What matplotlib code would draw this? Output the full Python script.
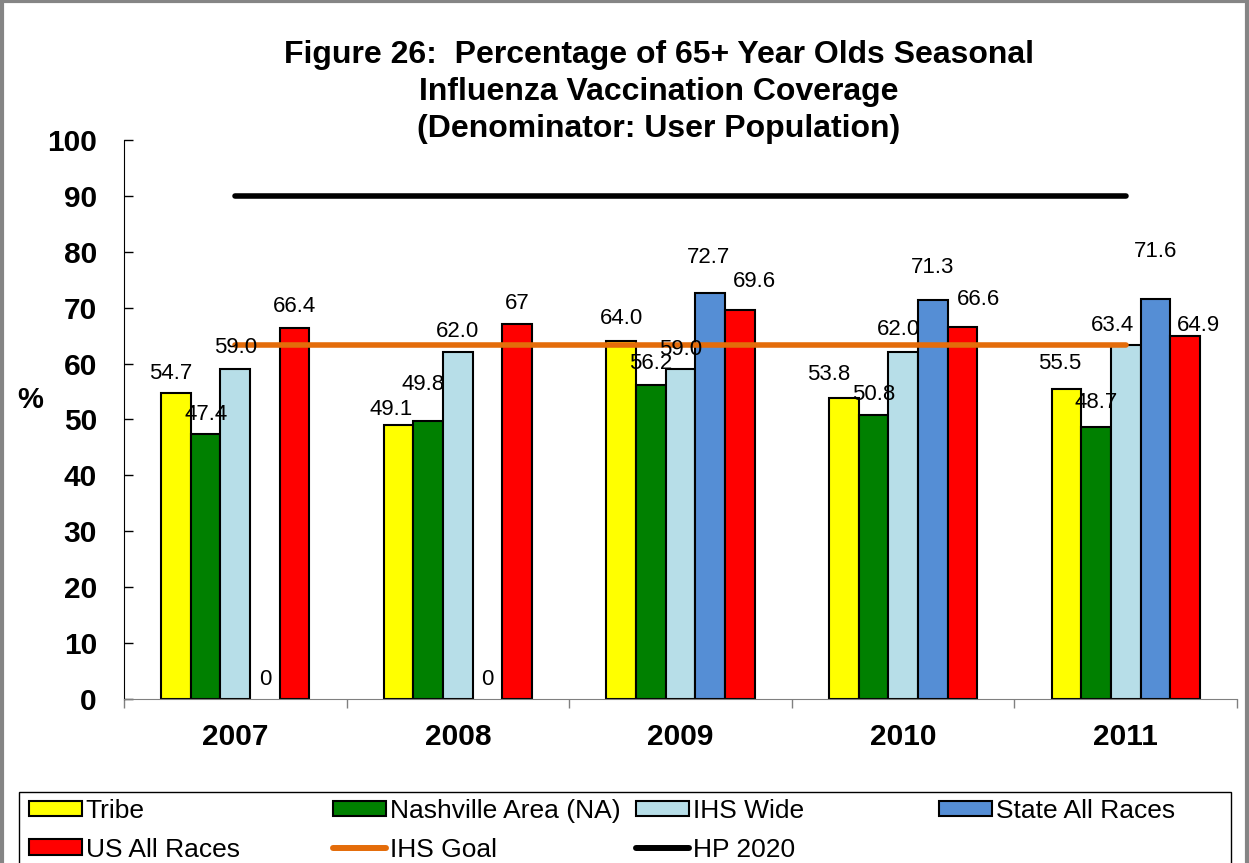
import numpy as np
import matplotlib.pyplot as plt
from matplotlib.patches import Patch, Rectangle
from matplotlib.lines import Line2D

plt.rcParams['font.family'] = ['Liberation Sans', 'DejaVu Sans']

# data
years = ['2007', '2008', '2009', '2010', '2011']
tribe = [54.7, 49.1, 64.0, 53.8, 55.5]
nashville = [47.4, 49.8, 56.2, 50.8, 48.7]
ihs_wide = [59.0, 62.0, 59.0, 62.0, 63.4]
state_all = [0, 0, 72.7, 71.3, 71.6]
us_all = [66.4, 67, 69.6, 66.6, 64.9]
ihs_goal = 63.4
hp_2020 = 90

series_names = ['Tribe', 'Nashville Area (NA)', 'IHS Wide', 'State All Races', 'US All Races']
series_colors = ['#FFFF00', '#008000', '#B7DEE8', '#558ED5', '#FF0000']
series_fmt = ['{:.1f}', '{:.1f}', '{:.1f}', '{:g}', '{:g}']

# where each value label sits relative to its bar top (dx, dy in pixels)
label_offsets = [
    [(-5, 22), (-8, 17), (0, 25), (-15, 26), (-7, 27)],
    [(0, 22), (-5, 38), (0, 23), (0, 23), (0, 26)],
    [(0, 24), (0, 23), (0, 22), (-5, 25), (-13, 21)],
    [(0, 22), (0, 22), (-2, 37), (0, 35), (0, 49)],
    [(0, 23), (0, 23), (15, 30), (16, 29), (14, 13)],
]

W, H = 1249, 863
fig = plt.figure(figsize=(W / 100, H / 100), dpi=100)
ax = fig.add_axes([124 / W, 1 - 699 / H, (1237 - 124) / W, (699 - 140) / H])

x = np.arange(len(years))
w = 0.133
all_series = [tribe, nashville, ihs_wide, state_all, us_all]

for k, vals in enumerate(all_series):
    pos = x + (k - 2) * w
    lws = [1.5 if v > 0 else 0 for v in vals]
    ax.bar(pos, vals, w, color=series_colors[k], edgecolor='black',
           linewidth=lws, zorder=2)
    for i, v in enumerate(vals):
        dx, dy = label_offsets[k][i]
        ax.annotate(series_fmt[k].format(v), (pos[i], v), xytext=(dx, dy - 2),
                    textcoords='offset pixels', ha='center', va='center',
                    fontsize=16, zorder=5)

ax.plot(x, [ihs_goal] * len(x), color='#E46C0A', lw=4,
        solid_capstyle='round', zorder=4)
ax.plot(x, [hp_2020] * len(x), color='black', lw=4,
        solid_capstyle='round', zorder=4)

ax.set_xlim(-0.5, len(years) - 0.5)
ax.set_ylim(0, 100)
ax.set_yticks(np.arange(0, 101, 10))
for lab in ax.get_yticklabels():
    lab.set_fontweight('bold')
ax.tick_params(axis='y', direction='in', length=6.5, width=1, pad=19.5,
               labelsize=21.5)

ax.set_xticks(x, years, fontsize=21.5, fontweight='bold')
ax.set_xticks(np.arange(-0.5, len(years), 1), minor=True)
ax.tick_params(axis='x', which='major', length=0, pad=17)
ax.tick_params(axis='x', which='minor', length=6.5, width=1,
               color='#808080', direction='out')

ax.spines['top'].set_visible(False)
ax.spines['right'].set_visible(False)
ax.spines['left'].set_color('black')
ax.spines['bottom'].set_color('#808080')

fig.text(30 / W, 1 - 400 / H, '%', ha='center', va='center',
         fontsize=21, fontweight='bold')

title_lines = ['Figure 26:  Percentage of 65+ Year Olds Seasonal',
               'Influenza Vaccination Coverage',
               '(Denominator: User Population)']
for j, line in enumerate(title_lines):
    fig.text(659 / W, 1 - (63 + 37 * j) / H, line, ha='center',
             va='baseline', fontsize=23, fontweight='bold')

# legend, laid out as four fixed-width columns
def bar_handle(k):
    return Patch(facecolor=series_colors[k], edgecolor='black', lw=1.5)

goal_handle = Line2D([], [], color='#E46C0A', lw=4.3, solid_capstyle='round')
hp_handle = Line2D([], [], color='black', lw=4.3, solid_capstyle='round')

columns = [
    ([bar_handle(0), bar_handle(4)], [series_names[0], series_names[4]], 29),
    ([bar_handle(1), goal_handle], [series_names[1], 'IHS Goal'], 333),
    ([bar_handle(2), hp_handle], [series_names[2], 'HP 2020'], 636),
    ([bar_handle(3)], [series_names[3]], 939),
]
for handles, labels, xpx in columns:
    fig.legend(handles, labels, loc='upper left',
               bbox_to_anchor=(xpx / W, 1 - 799 / H), frameon=False,
               borderpad=0, borderaxespad=0, fontsize=19,
               handlelength=2.0, handleheight=0.53, handletextpad=0.15,
               labelspacing=0.55)

fig.add_artist(Rectangle((19 / W, -0.1), (1231 - 19) / W, 1 - 792 / H + 0.1,
                         transform=fig.transFigure, fill=False,
                         edgecolor='black', lw=1))
fig.add_artist(Rectangle((2 / W, -0.1), (1246.5 - 2) / W, 1 - 1 / H + 0.1,
                         transform=fig.transFigure, fill=False,
                         edgecolor='#858585', lw=3))

fig.savefig('out.png', dpi=100)
